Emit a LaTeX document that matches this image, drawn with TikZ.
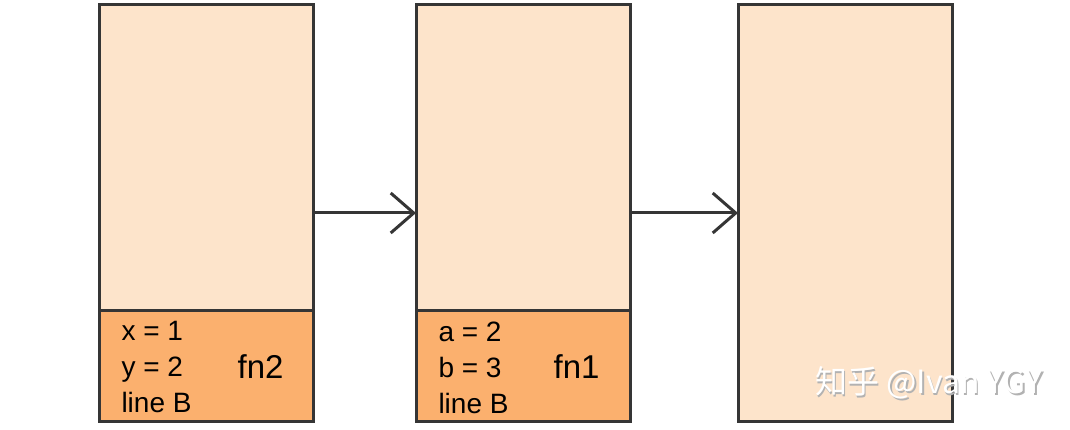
\documentclass[tikz,border=0pt]{standalone}
\usepackage{fontspec}
\setmainfont{Liberation Sans}
\newfontfamily\cjk{Noto Sans CJK SC}
\usetikzlibrary{arrows.meta}
\definecolor{framelight}{HTML}{FDE4CB}
\definecolor{framedark}{HTML}{FBB06E}
\definecolor{edge}{HTML}{353535}
\begin{document}
\begin{tikzpicture}[x=1pt, y=-1pt, line width=3pt,
  frame/.style = {draw = edge, fill = framelight, inner sep = 0pt, outer sep = 0pt, minimum width = 214pt},
  vars/.style = {frame, fill = framedark, minimum height = 111pt},
  varlines/.style = {anchor = west, align = left, inner sep = 0pt, font = \fontsize{28}{36}\selectfont},
  fnname/.style = {anchor = east, inner sep = 0pt, font = \fontsize{33}{36}\selectfont},
  link/.style = {draw = edge, -{Straight Barb[length = 23pt, width = 40pt, line width = 3pt]}}]
\useasboundingbox (0,0) rectangle (1070,430);
\foreach \n/\x in {1/99,2/416,3/738}
  \node[frame, minimum height = 416pt, anchor = north west] (frame\n) at (\x,5) {};
% stack frames
\node[vars, anchor = south west] (vars1) at (frame1.south west) {};
\node[vars, anchor = south west] (vars2) at (frame2.south west) {};
\node[varlines] (locals1) at ([xshift = 21pt, yshift = -2pt]vars1.west) {x = 1\\y = 2\\line B};
\node[fnname] (fn2) at ([xshift = -28pt, yshift = -1pt]vars1.east) {fn2};
\node[varlines] (locals2) at ([xshift = 21pt, yshift = -2pt]vars2.west) {a = 2\\b = 3\\line B};
\node[fnname] (fn1) at ([xshift = -29pt, yshift = -1pt]vars2.east) {fn1};
\draw[link] (frame1.east) -- (frame2.west);
\draw[link] (frame2.east) -- (frame3.west);
% watermark
\node[text = gray!60, font = \cjk\fontsize{32}{34}\selectfont] (shadow) at (930.5,384.5) {知乎 @Ivan YGY};
\node[text = white, font = \cjk\fontsize{32}{34}\selectfont] (watermark) at (929,383) {知乎 @Ivan YGY};
\end{tikzpicture}
\end{document}
